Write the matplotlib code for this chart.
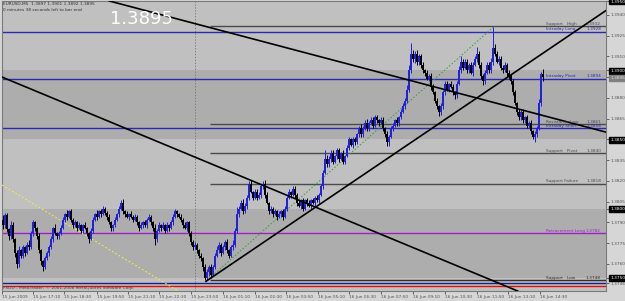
import matplotlib
matplotlib.use("Agg")
import matplotlib.pyplot as plt
import numpy as np

# ---------------- data (prices in pips above 1.3700) ----------------
BASE = 1.3700
first_open = 92
closes = [
    88, 95, 85, 80, 88, 78, 68, 60, 70, 66,
    72, 68, 74, 72, 82, 90, 86, 80, 70, 62,
    58, 64, 68, 72, 78, 86, 82, 80, 82, 86,
    92, 96, 94, 98, 92, 88, 90, 86, 88, 84,
    88, 86, 82, 78, 84, 92, 96, 94, 98, 96,
    100, 97, 94, 90, 86, 88, 92, 96, 100, 104,
    98, 96, 94, 96, 94, 92, 94, 90, 86, 88,
    90, 88, 92, 94, 90, 86, 78, 84, 88, 86,
    88, 84, 88, 86, 90, 94, 98, 96, 94, 92,
    88, 86, 90, 82, 76, 72, 74, 70, 66, 64,
    58, 50, 54, 58, 52, 58, 66, 70, 74, 68,
    72, 76, 70, 66, 72, 74, 84, 96, 100, 104,
    98, 102, 108, 118, 112, 108, 112, 108, 110, 116,
    118, 110, 104, 98, 100, 96, 98, 94, 96, 98,
    94, 100, 108, 112, 110, 114, 110, 104, 102, 106,
    100, 106, 104, 102, 106, 104, 108, 106, 110, 116,
    126, 136, 132, 136, 140, 134, 138, 142, 136, 140,
    134, 138, 144, 150, 146, 150, 148, 154, 158, 154,
    158, 162, 158, 162, 164, 160, 166, 164, 162, 164,
    158, 154, 148, 152, 158, 160, 164, 162, 166, 170,
    174, 178, 186, 200, 212, 208, 212, 206, 210, 204,
    200, 198, 194, 196, 188, 184, 178, 174, 170, 174,
    184, 190, 186, 190, 188, 184, 182, 190, 200, 206,
    202, 206, 200, 204, 198, 204, 208, 212, 204, 196,
    192, 198, 204, 200, 206, 216, 212, 206, 208, 202,
    200, 204, 198, 196, 192, 184, 176, 170, 166, 170,
    164, 166, 160, 162, 156, 152, 154, 158, 176, 197,
    195,
]
up_wick = [
    3, 2, 2, 1, 3, 2, 1, 2, 3, 1,
    2, 1, 2, 3, 2, 2, 1, 1, 2, 1,
    1, 2, 1, 2, 2, 1, 3, 1, 2, 2,
    2, 1, 3, 1, 2, 1, 2, 1, 2, 1,
    1, 2, 1, 1, 2, 2, 1, 3, 1, 2,
    2, 1, 1, 2, 1, 1, 2, 1, 2, 2,
    3, 1, 2, 1, 2, 1, 2, 1, 1, 2,
    1, 2, 1, 2, 1, 1, 3, 1, 2, 1,
    2, 1, 2, 1, 2, 2, 2, 1, 1, 2,
    1, 2, 1, 1, 2, 1, 2, 1, 1, 2,
    1, 2, 2, 1, 2, 1, 2, 3, 2, 1,
    2, 1, 2, 1, 2, 3, 2, 5, 2, 2,
    3, 2, 2, 2, 3, 1, 2, 2, 2, 1,
    2, 3, 2, 1, 2, 1, 2, 1, 2, 1,
    2, 2, 1, 2, 1, 2, 2, 1, 2, 1,
    2, 1, 2, 2, 1, 2, 1, 2, 1, 2,
    2, 6, 3, 2, 2, 2, 1, 2, 2, 1,
    2, 1, 2, 2, 1, 2, 2, 1, 2, 3,
    2, 2, 3, 1, 2, 2, 2, 2, 1, 2,
    2, 1, 2, 1, 2, 2, 1, 2, 1, 2,
    2, 2, 3, 4, 8, 3, 2, 3, 2, 2,
    2, 1, 2, 1, 2, 2, 1, 2, 1, 2,
    2, 2, 2, 1, 2, 2, 1, 2, 3, 4,
    2, 2, 2, 1, 2, 2, 2, 5, 2, 2,
    1, 2, 2, 2, 3, 15, 3, 2, 2, 2,
    2, 2, 1, 2, 1, 2, 2, 1, 2, 1,
    2, 1, 2, 1, 2, 1, 2, 2, 3, 2,
    4,
]
down_wick = [
    3, 2, 2, 3, 2, 2, 3, 3, 2, 2,
    2, 2, 1, 2, 1, 2, 2, 2, 2, 3,
    3, 2, 1, 2, 1, 2, 1, 2, 2, 1,
    1, 2, 2, 1, 2, 2, 1, 2, 1, 2,
    2, 1, 2, 3, 1, 2, 1, 2, 1, 2,
    1, 2, 2, 1, 2, 2, 1, 1, 2, 1,
    2, 2, 1, 2, 1, 2, 1, 2, 2, 1,
    2, 1, 2, 1, 2, 2, 4, 2, 1, 2,
    1, 2, 1, 2, 1, 2, 1, 2, 1, 2,
    2, 1, 2, 2, 2, 2, 1, 2, 2, 2,
    3, 2, 2, 3, 2, 1, 2, 1, 2, 2,
    1, 2, 2, 2, 1, 2, 2, 2, 2, 1,
    2, 1, 2, 2, 1, 2, 1, 2, 1, 2,
    2, 2, 1, 2, 1, 2, 1, 2, 1, 2,
    2, 1, 2, 1, 2, 1, 2, 2, 1, 2,
    2, 1, 2, 1, 2, 1, 2, 1, 2, 1,
    2, 1, 2, 2, 2, 2, 1, 2, 2, 1,
    2, 2, 1, 2, 1, 2, 2, 1, 2, 2,
    2, 1, 2, 2, 1, 2, 1, 2, 2, 1,
    2, 2, 3, 3, 1, 2, 1, 2, 2, 1,
    1, 2, 2, 2, 2, 2, 3, 2, 2, 2,
    2, 2, 1, 2, 2, 1, 2, 2, 3, 2,
    2, 2, 1, 2, 1, 2, 3, 2, 1, 2,
    2, 1, 2, 2, 1, 2, 1, 2, 2, 2,
    3, 2, 1, 2, 2, 2, 2, 1, 2, 2,
    2, 1, 2, 2, 2, 2, 1, 2, 2, 2,
    2, 2, 2, 2, 2, 2, 4, 2, 1, 2,
    3,
]

# horizontal levels
level_names = ["Support   High", "Intraday Long", "Intraday Pivot", "Resistance Low",
               "Intraday Short", "Support   Pivot", "Support Failure", "Retracement Long",
               "Support   Low"]
level_prices = [1.3932, 1.3928, 1.3894, 1.3861, 1.3858, 1.3840, 1.3818, 1.3782, 1.3748]
level_colors = ["#4a4a4a", "#2a2ab0", "#2a2ab0", "#4a4a4a", "#2a2ab0", "#4a4a4a",
                "#4a4a4a", "#a020c8", "#303030"]
level_full = [False, True, True, False, True, False, False, True, False]
level_start_bar = 103.5
extra_lines = [(1.3746, "#1c1c8c"), (1.3744, "#e01010")]

# trendlines: (bar, price) anchors
trend_down1 = [(0, 1.38948), (130, 1.38168)]
trend_down2 = [(55, 1.39494), (204, 1.38925)]
trend_up = [(101.5, 1.37474), (245, 1.38879)]
green_dots = [(102, 1.37480), (245, 1.39310)]
yellow_dots = [(-0.5, 1.38170), (88, 1.37400)]

day_sep_bar = 96

# axis labels
ytick_vals = [1.3950, 1.3940, 1.3925, 1.3910, 1.3900, 1.3895, 1.3880, 1.3865, 1.3850,
              1.3835, 1.3820, 1.3805, 1.3800, 1.3790, 1.3775, 1.3760, 1.3750, 1.3746]
box_vals = [1.3950, 1.3900, 1.3850, 1.3800, 1.3750]
bid_val = 1.3895
xtick_bars = [-0.5, 15, 30.5, 47, 62.5, 78, 94, 110, 126, 141.5, 157.5, 173, 189,
              205, 221, 237, 252.5, 268.5]
xtick_labels = ["15 Jun 2009", "15 Jun 17:10", "15 Jun 18:30", "15 Jun 19:50",
                "15 Jun 21:10", "15 Jun 22:30", "15 Jun 23:50", "16 Jun 01:10",
                "16 Jun 02:30", "16 Jun 03:50", "16 Jun 05:10", "16 Jun 06:30",
                "16 Jun 07:50", "16 Jun 09:10", "16 Jun 10:30", "16 Jun 11:50",
                "16 Jun 13:10", "16 Jun 14:30"]

header1 = "EURUSD,M5  1.3897 1.3901 1.3892 1.3895"
header2 = "0 minutes 38 seconds left to bar end"
big_price = "1.3895"
copyright_txt = "FXDD - MetaTrader, \u00a9 2001-2008 MetaQuotes Software Corp."

# ---------------- figure ----------------
W, H = 625, 301
SMALL = 3.1
fig = plt.figure(figsize=(W / 100, H / 100), dpi=100, facecolor="#d6d6d6")
ax = fig.add_axes([2 / W, 10 / H, 604 / W, 290 / H])
ax.set_facecolor("#c0c0c0")
ax.set_xlim(-0.5, 301.5)
ax.set_ylim(1.37404, 1.39501)

ax.axhspan(1.3850, 1.3900, color="#adadad", zorder=0, lw=0)
ax.axhspan(1.3750, 1.3800, color="#adadad", zorder=0, lw=0)
ax.axvline(day_sep_bar, color="#707070", lw=0.6, ls=(0, (1.5, 2)), zorder=1)

# levels
for name, p, c, full in zip(level_names, level_prices, level_colors, level_full):
    x0 = -0.5 if full else level_start_bar
    ax.plot([x0, 301.5], [p, p], color=c, lw=1.0, zorder=2, solid_capstyle="butt")
    ax.text(271.5, p + 0.00002, name, fontsize=SMALL, color=c, va="bottom", ha="left", zorder=6)
    ax.text(299.0, p + 0.00002, f"{p:.4f}", fontsize=SMALL, color=c, va="bottom", ha="right", zorder=6)
for p, c in extra_lines:
    ax.plot([-0.5, 301.5], [p, p], color=c, lw=1.0, zorder=2)

# candles
o = BASE + np.array([first_open] + closes[:-1]) / 10000.0
c = BASE + np.array(closes) / 10000.0
hi = np.maximum(o, c) + np.array(up_wick) / 10000.0
lo = np.minimum(o, c) - np.array(down_wick) / 10000.0
xb = np.arange(len(closes))
col = np.where(c >= o, "#2222dd", "#000000")
ax.vlines(xb, lo, hi, colors=col, lw=0.7, zorder=4)
body_h = np.maximum(np.abs(c - o), 0.00003)
ax.bar(xb, body_h, bottom=np.minimum(o, c), width=0.85, color=col, lw=0, zorder=4)

# trendlines
ax.axline(*trend_down1, color="black", lw=1.2, zorder=5)
ax.axline(*trend_down2, color="black", lw=1.2, zorder=5)
(ux0, uy0), (ux1, uy1) = trend_up
slope = (uy1 - uy0) / (ux1 - ux0)
ax.plot([ux0, 301.5], [uy0, uy0 + slope * (301.5 - ux0)], color="black", lw=1.2, zorder=5)
ax.plot(*zip(*green_dots), color="#30a030", lw=0.7, ls=(0, (1.5, 2)), zorder=3)
ax.plot(*zip(*yellow_dots), color="#f0f040", lw=0.8, ls=(0, (1.5, 2)), zorder=3)

# axes styling
for s in ax.spines.values():
    s.set_color("#7a7a7a")
    s.set_linewidth(0.8)
ax.yaxis.tick_right()
ax.set_yticks(ytick_vals)
ax.set_yticklabels([f"{v:.4f}" for v in ytick_vals])
ax.tick_params(axis="y", labelsize=SMALL, length=2, width=0.6, pad=1.0, colors="#505050")
for lbl, v in zip(ax.get_yticklabels(), ytick_vals):
    if v in box_vals:
        lbl.set_color("white")
        lbl.set_bbox(dict(facecolor="black", edgecolor="black", boxstyle="square,pad=0.2"))
    elif v == bid_val:
        lbl.set_color("#e0e0e0")
        lbl.set_bbox(dict(facecolor="#808080", edgecolor="#808080", boxstyle="square,pad=0.2"))
ax.set_xticks(xtick_bars)
ax.set_xticklabels(xtick_labels)
ax.tick_params(axis="x", labelsize=SMALL, length=2, width=0.6, pad=1.0, colors="#505050")
for lbl in ax.get_xticklabels():
    lbl.set_ha("left")

# texts
fig.text(3 / W, 1 - 4 / H, header1, fontsize=SMALL, color="#303030", va="center", ha="left")
fig.text(3 / W, 1 - 10 / H, header2, fontsize=SMALL, color="#303030", va="center", ha="left")
fig.text(110 / W, 1 - 19 / H, big_price, fontsize=13, color="white", va="center", ha="left")
fig.text(3 / W, 1 - 288 / H, copyright_txt, fontsize=SMALL, color="#404040", va="center", ha="left")

fig.savefig("out.png", dpi=100, facecolor=fig.get_facecolor())
